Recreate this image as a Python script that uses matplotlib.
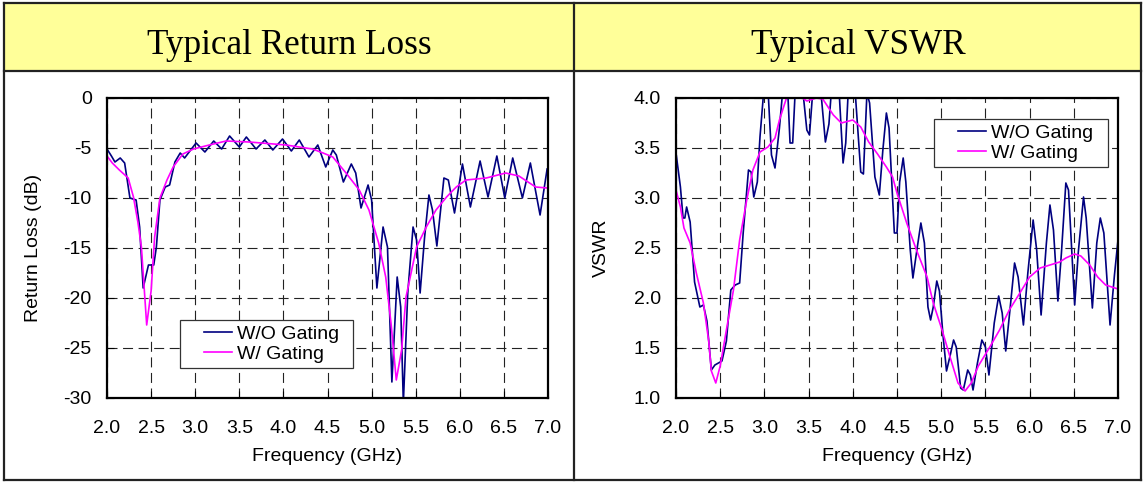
import matplotlib
matplotlib.use('Agg')
import matplotlib.pyplot as plt
from matplotlib.patches import Rectangle
from matplotlib.lines import Line2D
from matplotlib.legend_handler import HandlerLine2D

plt.rcParams['font.family'] = ['Liberation Sans', 'DejaVu Sans']
plt.rcParams['axes.unicode_minus'] = False

# return loss, without gating
rl_f_wo = [2.00, 2.05, 2.09, 2.15, 2.20, 2.26, 2.33, 2.37, 2.41, 2.47, 2.53, 2.56, 2.60, 2.66,
           2.71, 2.77, 2.83, 2.88, 2.94, 3.01, 3.11, 3.21, 3.30, 3.39, 3.50, 3.58, 3.69, 3.79,
           3.88, 3.99, 4.09, 4.18, 4.29, 4.39, 4.48, 4.56, 4.60, 4.68, 4.77, 4.82, 4.88, 4.96,
           5.00, 5.06, 5.13, 5.18, 5.23, 5.29, 5.33, 5.36, 5.41, 5.47, 5.51, 5.55, 5.60, 5.65,
           5.69, 5.74, 5.82, 5.87, 5.94, 6.03, 6.12, 6.23, 6.32, 6.42, 6.51, 6.60, 6.71, 6.80,
           6.91, 6.99]
rl_wo = [-5.1, -5.8, -6.4, -6.0, -6.5, -10.0, -10.2, -12.9, -19.0, -16.7, -16.7, -14.9, -10.2, -8.9,
         -8.7, -6.4, -5.5, -6.0, -5.3, -4.5, -5.4, -4.3, -5.1, -3.8, -4.9, -3.9, -5.1, -4.2,
         -5.2, -4.1, -5.3, -4.2, -5.9, -4.7, -6.9, -5.2, -5.7, -8.4, -6.6, -7.5, -11.0, -8.7,
         -10.2, -19.0, -12.9, -14.9, -28.4, -17.9, -20.9, -30.5, -19.5, -12.9, -14.2, -19.5, -14.0, -9.7,
         -11.2, -14.8, -8.0, -8.2, -11.5, -6.6, -10.9, -6.3, -9.9, -5.8, -10.0, -6.0, -10.0, -6.5,
         -11.7, -7.1]

# return loss, with gating
rl_f_w = [2.00, 2.06, 2.14, 2.24, 2.30, 2.35, 2.39, 2.45, 2.50, 2.54, 2.60, 2.68, 2.75, 2.86,
          2.98, 3.16, 3.35, 3.61, 4.03, 4.33, 4.45, 4.56, 4.71, 4.86, 4.97, 5.08, 5.16, 5.22,
          5.28, 5.34, 5.39, 5.51, 5.62, 5.73, 5.85, 5.96, 6.07, 6.30, 6.52, 6.67, 6.86, 6.99]
rl_w = [-5.8, -6.5, -7.2, -8.0, -9.9, -12.4, -14.9, -22.7, -19.3, -13.9, -10.0, -8.2, -6.9, -5.6,
        -5.1, -4.7, -4.3, -4.4, -4.7, -5.1, -5.5, -5.9, -7.5, -9.2, -11.2, -14.5, -17.9, -22.5,
        -28.2, -25.2, -19.9, -14.9, -12.9, -11.2, -9.9, -8.9, -8.2, -8.0, -7.5, -7.8, -8.9, -9.0]

# vswr, without gating
vs_f_wo = [2.00, 2.05, 2.08, 2.10, 2.12, 2.16, 2.21, 2.27, 2.31, 2.35, 2.40, 2.44, 2.48, 2.52,
           2.57, 2.62, 2.67, 2.72, 2.76, 2.82, 2.85, 2.88, 2.92, 2.95, 3.00, 3.04, 3.08, 3.12,
           3.17, 3.22, 3.26, 3.29, 3.32, 3.35, 3.42, 3.48, 3.51, 3.55, 3.63, 3.69, 3.73, 3.76,
           3.84, 3.89, 3.92, 3.95, 4.02, 4.09, 4.12, 4.16, 4.19, 4.25, 4.30, 4.34, 4.38, 4.41,
           4.47, 4.50, 4.53, 4.57, 4.60, 4.65, 4.68, 4.72, 4.77, 4.81, 4.85, 4.88, 4.91, 4.95,
           4.98, 5.02, 5.06, 5.10, 5.14, 5.17, 5.22, 5.25, 5.30, 5.33, 5.36, 5.41, 5.46, 5.50,
           5.54, 5.60, 5.65, 5.69, 5.73, 5.78, 5.83, 5.87, 5.93, 5.98, 6.04, 6.08, 6.13, 6.19,
           6.23, 6.27, 6.32, 6.36, 6.41, 6.44, 6.51, 6.55, 6.61, 6.64, 6.71, 6.76, 6.80, 6.84,
           6.91, 6.96, 7.00]
vs_wo = [3.45, 3.11, 2.80, 2.80, 2.91, 2.76, 2.16, 1.91, 1.93, 1.77, 1.28, 1.33, 1.35, 1.37,
         1.57, 2.08, 2.13, 2.15, 2.65, 3.28, 3.26, 3.01, 3.16, 3.61, 4.15, 4.10, 3.43, 3.30,
         3.70, 4.20, 4.15, 3.55, 3.55, 4.10, 4.20, 3.68, 3.63, 4.10, 4.15, 3.56, 3.74, 4.10,
         4.15, 3.35, 3.55, 4.10, 4.15, 3.26, 3.24, 4.05, 3.95, 3.21, 3.03, 3.48, 3.85, 3.70,
         2.65, 2.65, 3.16, 3.40, 3.16, 2.48, 2.20, 2.45, 2.75, 2.55, 1.91, 1.78, 1.91, 2.17,
         2.07, 1.63, 1.27, 1.42, 1.58, 1.51, 1.10, 1.08, 1.28, 1.23, 1.08, 1.35, 1.58, 1.51,
         1.23, 1.75, 2.02, 1.85, 1.47, 1.90, 2.35, 2.21, 1.73, 2.25, 2.78, 2.48, 1.83, 2.55,
         2.93, 2.68, 1.97, 2.45, 3.15, 3.08, 1.93, 2.45, 3.01, 2.80, 1.90, 2.55, 2.80, 2.65,
         1.73, 2.23, 2.58]

# vswr, with gating
vs_f_w = [2.00, 2.05, 2.09, 2.16, 2.23, 2.31, 2.37, 2.40, 2.45, 2.50, 2.57, 2.65, 2.72, 2.80,
          2.87, 2.95, 3.04, 3.12, 3.17, 3.25, 3.35, 3.43, 3.48, 3.59, 3.66, 3.78, 3.87, 4.00,
          4.09, 4.18, 4.28, 4.38, 4.45, 4.50, 4.61, 4.72, 4.84, 4.91, 5.01, 5.10, 5.19, 5.27,
          5.34, 5.42, 5.55, 5.66, 5.77, 5.89, 6.00, 6.12, 6.23, 6.34, 6.41, 6.51, 6.58, 6.68,
          6.77, 6.86, 7.00]
vs_w = [3.08, 2.91, 2.70, 2.55, 2.25, 1.95, 1.57, 1.27, 1.15, 1.32, 1.68, 2.08, 2.58, 2.98,
        3.28, 3.46, 3.51, 3.60, 3.78, 4.00, 4.02, 4.00, 3.97, 4.00, 3.99, 3.83, 3.75, 3.78,
        3.71, 3.56, 3.44, 3.31, 3.21, 3.05, 2.75, 2.48, 2.21, 1.95, 1.68, 1.41, 1.15, 1.07,
        1.15, 1.32, 1.51, 1.68, 1.88, 2.05, 2.21, 2.30, 2.33, 2.36, 2.40, 2.44, 2.42, 2.33,
        2.21, 2.13, 2.09]

x_ticks = [2.0, 2.5, 3.0, 3.5, 4.0, 4.5, 5.0, 5.5, 6.0, 6.5, 7.0]
rl_ticks = [0, -5, -10, -15, -20, -25, -30]
vs_ticks = [1.0, 1.5, 2.0, 2.5, 3.0, 3.5, 4.0]

titles = ['Typical Return Loss', 'Typical VSWR']
labels = ['W/O Gating', 'W/ Gating']

BLUE = '#000080'
PINK = '#ff00ff'
FS = 14
W, H = 1144, 482

fig = plt.figure(figsize=(11.44, 4.82), dpi=100)

# table frame + yellow header
fig.patches.append(Rectangle((4 / W, 1 - 71 / H), 1137 / W, 68 / H, transform=fig.transFigure,
                             facecolor='#ffff99', edgecolor='none', zorder=0))
for (x0, y0, x1, y1) in [(4, 3, 1141, 3), (4, 480, 1141, 480), (4, 3, 4, 480),
                         (1141, 3, 1141, 480), (574, 3, 574, 480), (4, 71, 1141, 71)]:
    fig.add_artist(Line2D([x0 / W, x1 / W], [1 - y0 / H, 1 - y1 / H], color='#222222',
                          lw=1.6, transform=fig.transFigure))
fig.text(289 / W, 1 - 46 / H, titles[0], family='Liberation Serif', fontsize=25.3,
         ha='center', va='center')
fig.text(858 / W, 1 - 46 / H, titles[1], family='Liberation Serif', fontsize=25.3,
         ha='center', va='center')


def style(ax):
    ax.set_xlim(2, 7)
    ax.set_xticks(x_ticks)
    ax.set_xticklabels(['%.1f' % t for t in x_ticks])
    ax.grid(True, color='#222222', lw=0.8, linestyle=(0, (9, 5)))
    ax.tick_params(direction='in', length=5, width=0.8, labelsize=FS)
    ax.tick_params(axis='x', pad=16)
    ax.tick_params(axis='y', pad=11)
    for s in ax.spines.values():
        s.set_linewidth(1.6)
    ax.set_xlabel('Frequency (GHz)', fontsize=FS)
    ax.xaxis.set_label_coords(0.5, -0.168)


def add_legend(ax, loc, box):
    leg = ax.legend(loc=loc, bbox_to_anchor=box, mode='expand', borderaxespad=0,
                    fontsize=FS, fancybox=False, framealpha=1, edgecolor='#333333',
                    handlelength=3.35, labelspacing=0.1, handletextpad=-0.7, borderpad=0.28,
                    handler_map={Line2D: HandlerLine2D(marker_pad=0.93, numpoints=2)})
    leg.get_frame().set_linewidth(0.9)


ax1 = fig.add_axes([107 / W, 1 - 398 / H, 441 / W, 300 / H])
ax1.plot(rl_f_wo, rl_wo, color=BLUE, lw=1.2, label=labels[0])
ax1.plot(rl_f_w, rl_w, color=PINK, lw=1.2, label=labels[1])
ax1.set_ylim(-30, 0)
ax1.set_yticks(rl_ticks)
style(ax1)
ax1.set_ylabel('Return Loss (dB)', fontsize=FS)
ax1.yaxis.set_label_coords(-0.148, 0.5)
add_legend(ax1, 'lower left', (0.1655, 0.10, 0.392, 0.2))

ax2 = fig.add_axes([676 / W, 1 - 398 / H, 442 / W, 300 / H])
ax2.plot(vs_f_wo, vs_wo, color=BLUE, lw=1.2, label=labels[0])
ax2.plot(vs_f_w, vs_w, color=PINK, lw=1.2, label=labels[1])
ax2.set_ylim(1.0, 4.0)
ax2.set_yticks(vs_ticks)
ax2.set_yticklabels(['%.1f' % t for t in vs_ticks])
style(ax2)
ax2.set_ylabel('VSWR', fontsize=FS)
ax2.yaxis.set_label_coords(-0.149, 0.5)
add_legend(ax2, 'upper left', (0.5837, 0.73, 0.394, 0.2))

fig.savefig('out.png', dpi=100)
